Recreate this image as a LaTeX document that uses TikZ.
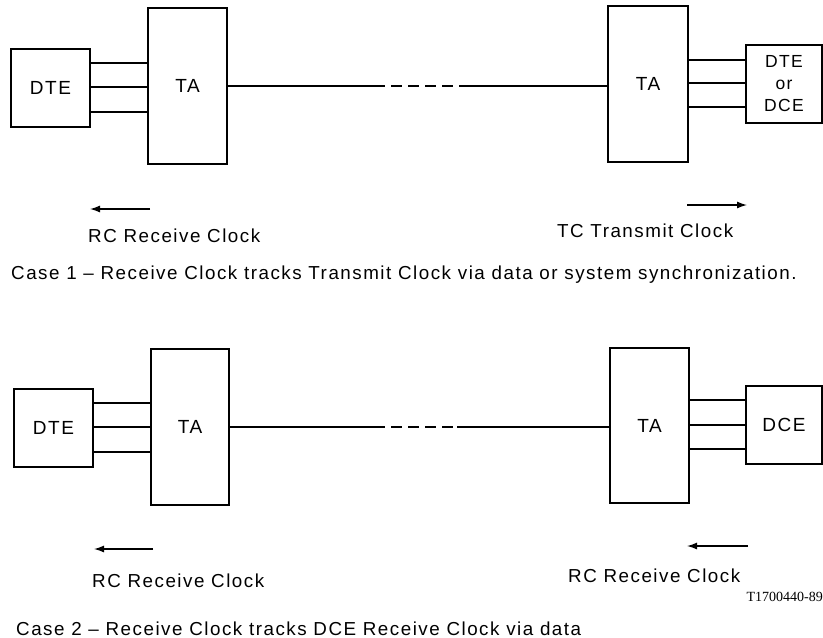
\documentclass[tikz,border=0pt]{standalone}
\usepackage{fontspec}
\setmainfont{Liberation Sans}[LetterSpace=8]
\newfontfamily\codefont{Liberation Serif}
\usetikzlibrary{arrows.meta}
\begin{document}
\begin{tikzpicture}[x=1pt,y=-1pt,
  box/.style={draw,line width=1.5pt,inner sep=0pt,align=center,font=\fontsize{19}{22}\selectfont},
  wire/.style={line width=1.3pt},
  clk/.style={line width=1.3pt,-{Latex[length=10pt,width=7pt]}},
  lbl/.style={anchor=base west,inner sep=0pt,font=\fontsize{18.8}{22}\selectfont}]
\useasboundingbox (0,0) rectangle (823,638);
% ---------- Case 1 ----------
\node[box,minimum width=79pt,minimum height=78pt] (dte1) at (50.5,88) {DTE};
\node[box,minimum width=79pt,minimum height=156pt] (ta1) at (187.5,86) {TA};
\node[box,minimum width=80pt,minimum height=156pt] (ta1r) at (648,84) {TA};
\node[box,minimum width=76pt,minimum height=78pt,font=\fontsize{17.5}{22}\selectfont] (dte1r) at (784,84) {DTE\\or\\DCE};
\foreach \d in {25,1,-24}
  \draw[wire] ([yshift=\d pt]dte1.east) -- ([yshift=\d pt]dte1.east -| ta1.west);
\foreach \d in {24,1,-23}
  \draw[wire] ([yshift=\d pt]ta1r.east) -- ([yshift=\d pt]ta1r.east -| dte1r.west);
\coordinate (d1a) at (374,86);
\coordinate (d1b) at (460,86);
\draw[wire] (ta1.east) -- (d1a);
\draw[wire,dash pattern=on 11pt off 6pt] (d1a) -- (d1b);
\draw[wire] (d1b) -- (d1b -| ta1r.west);
\coordinate (a1s) at (150,209); \coordinate (a1e) at (90,209);
\draw[clk] (a1s) -- (a1e);
\coordinate (b1s) at (687,205); \coordinate (b1e) at (747,205);
\draw[clk] (b1s) -- (b1e);
\node[lbl] (rc1) at (88,242) {RC Receive Clock};
\node[lbl] (tc1) at (557,237) {TC Transmit Clock};
\node[lbl] (cap1) at (11,279) {Case 1 \textendash{} Receive Clock tracks Transmit Clock via data or system synchronization.};
% ---------- Case 2 ----------
\node[box,minimum width=79pt,minimum height=78pt] (dte2) at (53.5,428) {DTE};
\node[box,minimum width=78pt,minimum height=156pt] (ta2) at (190,427) {TA};
\node[box,minimum width=79pt,minimum height=155pt] (ta2r) at (649.5,425.5) {TA};
\node[box,minimum width=76pt,minimum height=78pt] (dce2) at (784,425) {DCE};
\foreach \d in {25,1,-24}
  \draw[wire] ([yshift=\d pt]dte2.east) -- ([yshift=\d pt]dte2.east -| ta2.west);
\foreach \d in {25.5,0.5,-23.5}
  \draw[wire] ([yshift=\d pt]ta2r.east) -- ([yshift=\d pt]ta2r.east -| dce2.west);
\coordinate (d2a) at (374,427);
\coordinate (d2b) at (457,427);
\draw[wire] (d2a -| ta2.east) -- (d2a);
\draw[wire,dash pattern=on 11pt off 6pt] (d2a) -- (d2b);
\draw[wire] (d2b) -- (d2b -| ta2r.west);
\coordinate (a2s) at (153,549); \coordinate (a2e) at (94,549);
\draw[clk] (a2s) -- (a2e);
\coordinate (b2s) at (748,546); \coordinate (b2e) at (687,546);
\draw[clk] (b2s) -- (b2e);
\node[lbl] (rc2) at (92,587) {RC Receive Clock};
\node[lbl] (rc2r) at (568,582) {RC Receive Clock};
\node[lbl] (cap2) at (16,635) {Case 2 \textendash{} Receive Clock tracks DCE Receive Clock via data};
\node[anchor=base east,inner sep=0pt,font=\codefont\fontsize{14}{16}\selectfont] (code) at (823,601) {T1700440-89};
\end{tikzpicture}
\end{document}
